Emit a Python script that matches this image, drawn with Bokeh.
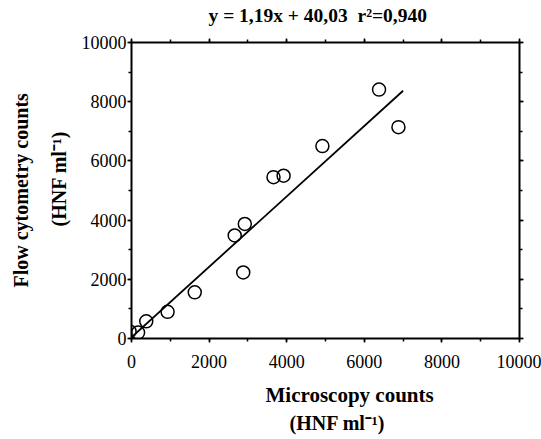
from bokeh.plotting import figure
from bokeh.models import Range1d, LinearAxis, SingleIntervalTicker, Title
from bokeh.embed import file_html
from bokeh.resources import INLINE

# Data
microscopy = [-50, 170, 380, 930, 1630, 2660, 2920, 2880, 3660, 3920, 4920, 6380, 6880]
flow_cyto = [240, 200, 580, 900, 1560, 3480, 3870, 2230, 5450, 5500, 6500, 8410, 7140]
slope = 1.19
intercept = 40.03
fit_x = [0, 7000]
fit_y = [slope * v + intercept for v in fit_x]

title_text = "y = 1,19x + 40,03 \u00a0r\u00b2=0,940"
x_label_1 = "Microscopy counts"
x_label_2 = "(HNF ml\u207b\u00b9)"
y_label_1 = "Flow cytometry counts"
y_label_2 = "(HNF ml\u207b\u00b9)"

FONT = "Liberation Serif"

p = figure(width=541, height=439, output_backend="svg", toolbar_location=None,
           x_range=Range1d(0, 10000), y_range=Range1d(0, 10000),
           x_axis_location=None, y_axis_location=None,
           min_border_left=131, min_border_right=22, min_border_top=42,
           min_border_bottom=101)
p.outline_line_color = None
p.xgrid.visible = False
p.ygrid.visible = False
p.background_fill_color = "white"
p.border_fill_color = "white"


def make_axis(show_labels):
    ax = LinearAxis(ticker=SingleIntervalTicker(interval=2000, num_minor_ticks=2))
    ax.axis_line_width = 2
    ax.axis_line_color = "black"
    ax.major_tick_line_width = 1.5
    ax.major_tick_in = 0
    ax.major_tick_out = 4
    ax.minor_tick_line_width = 1.5
    ax.minor_tick_in = 0
    ax.minor_tick_out = 3
    ax.major_label_text_font = FONT
    ax.major_label_text_color = "black"
    if show_labels:
        ax.major_label_text_font_size = "18px"
    else:
        ax.major_label_overrides = {v: "" for v in range(0, 10001, 2000)}
        ax.major_label_text_font_size = "1px"
        ax.major_label_standoff = 0
    return ax


bottom = make_axis(True)
bottom.major_label_standoff = 12
bottom.axis_label = "\u00a0"
bottom.axis_label_text_font_size = "1px"
bottom.axis_label_standoff = 7
left = make_axis(True)
left.major_label_standoff = 1
top = make_axis(False)
right = make_axis(False)
p.add_layout(bottom, "below")
p.add_layout(left, "left")
p.add_layout(top, "above")
p.add_layout(right, "right")

p.line(fit_x, fit_y, line_color="black", line_width=1.8)
p.scatter(microscopy, flow_cyto, size=13, marker="circle", fill_color=None,
          line_color="black", line_width=1.5)

tkw = dict(text_font=FONT, text_font_style="bold", text_color="black", align="left")
p.add_layout(Title(text=title_text + "\n\u00a0", text_font_size="19.5px", standoff=7,
                   offset=77, vertical_align="top", text_line_height=0.35, **tkw), "above")
p.add_layout(Title(text=x_label_1, text_font_size="21px", standoff=2, offset=134,
                   vertical_align="top", **tkw), "below")
p.add_layout(Title(text=x_label_2, text_font_size="20px", standoff=4, offset=158,
                   vertical_align="top", **tkw), "below")
p.add_layout(Title(text=y_label_2, text_font_size="20px", standoff=17, offset=112, **tkw), "left")
p.add_layout(Title(text=y_label_1, text_font_size="20px", standoff=11, offset=51, **tkw), "left")

open("out.html", "w").write(file_html(p, INLINE))
